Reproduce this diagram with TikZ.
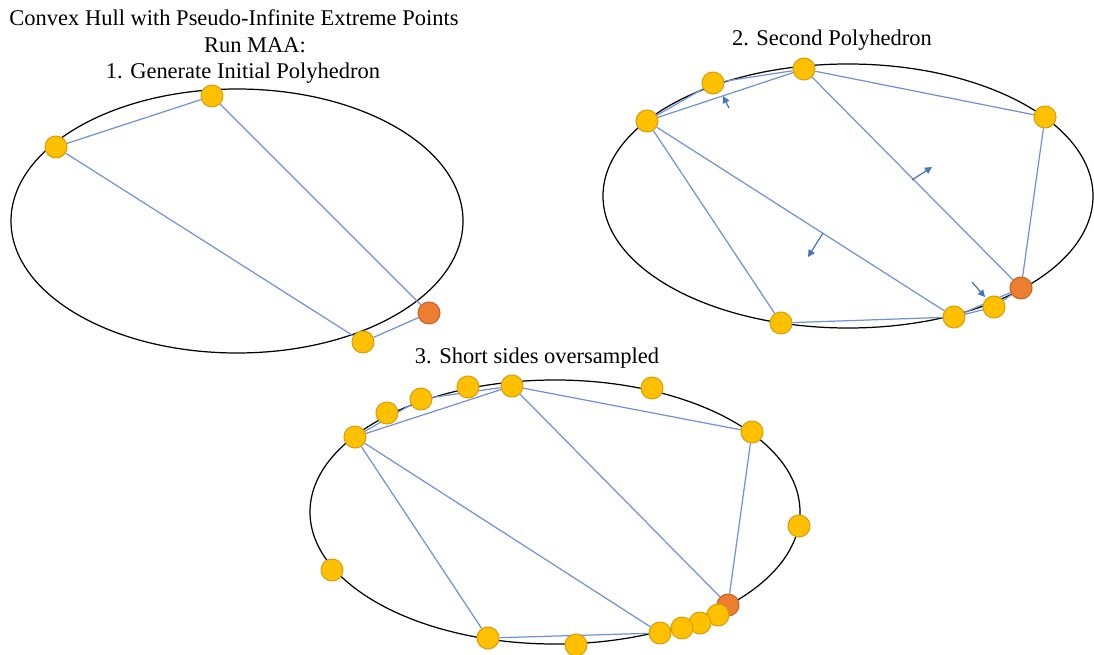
\documentclass[tikz,border=0pt]{standalone}
\usepackage{fontspec}
\setmainfont{Liberation Serif}
\usetikzlibrary{arrows.meta,backgrounds}

\definecolor{ptyellow}{RGB}{255,192,0}
\definecolor{ptyellowline}{RGB}{214,160,10}
\definecolor{ptorange}{RGB}{237,125,49}
\definecolor{ptorangeline}{RGB}{200,100,40}
\definecolor{edgeblue}{RGB}{114,147,211}
\definecolor{normalblue}{RGB}{68,114,196}

\tikzset{
  pt/.style={circle,draw=ptyellowline,fill=ptyellow,line width=0.6pt,minimum size=0.44cm,inner sep=0pt},
  ptinf/.style={pt,draw=ptorangeline,fill=ptorange},
  hull/.style={draw=edgeblue,line width=0.7pt},
  normal/.style={draw=normalblue,line width=0.7pt,-{Triangle[length=4pt,width=4pt]}},
  caption/.style={font=\fontsize{12.8}{15}\selectfont,inner sep=0pt}
}

\begin{document}
\begin{tikzpicture}[x=0.02cm,y=-0.02cm]
\useasboundingbox (0,0) rectangle (1094,655);

% titles
\node[caption] (t0) at (234,18) {Convex Hull with Pseudo-Infinite Extreme Points};
\node[caption] (t1) at (255,45) {Run MAA:};
\node[caption] (t2) at (243,73) {1. Generate Initial Polyhedron};
\node[caption] (t3) at (832,40) {2. Second Polyhedron};
\node[caption] (t4) at (537,358) {3. Short sides oversampled};

% panel 1
\node[pt] (a1) at (56,147) {};
\node[pt] (a2) at (212,96) {};
\node[ptinf] (a3) at (429,313) {};
\node[pt] (a4) at (363,342) {};
\begin{scope}[on background layer]
\draw[line width=0.7pt] (237,221) ellipse [x radius=226,y radius=132];
\draw[hull] (a1) -- (a2) -- (a3) -- (a4) -- (a1);
\end{scope}

% panel 2
\node[pt] (b1) at (647,121) {};
\node[pt] (b2) at (713,83) {};
\node[pt] (b3) at (804,69) {};
\node[pt] (b4) at (1045,117) {};
\node[ptinf] (b5) at (1021,288) {};
\node[pt] (b6) at (994,307) {};
\node[pt] (b7) at (954,317) {};
\node[pt] (b8) at (781,323) {};
\begin{scope}[on background layer]
\draw[line width=0.7pt] (848,196) ellipse [x radius=245,y radius=132];
\draw[hull] (b1) -- (b2) -- (b3) -- (b1);
\draw[hull] (b3) -- (b4) -- (b5) -- (b3);
\draw[hull] (b1) -- (b8) -- (b7) -- (b1);
\draw[hull] (b7) -- (b5) -- (b6) -- (b7);
\end{scope}
\draw[normal] (729,108) -- (723,96);
\draw[normal] (912,180) -- (932,167);
\draw[normal] (823,233) -- (808,257);
\draw[normal] (972,282) -- (985,297);

% panel 3
\node[pt] (c15) at (332,570) {};
\node[pt] (c1) at (355,437) {};
\node[pt] (c2) at (387,413) {};
\node[pt] (c3) at (421,399) {};
\node[pt] (c4) at (468,387) {};
\node[pt] (c5) at (512,386) {};
\node[pt] (c6) at (652,388) {};
\node[pt] (c7) at (752,432) {};
\node[pt] (c8) at (799,526) {};
\node[ptinf] (c0) at (728,605) {};
\foreach \n/\x/\y in {9/718/615,10/700/623,11/682/628,12/660/633}
  \node[pt] (c\n) at (\x,\y) {};
\node[pt] (c13) at (576,645) {};
\node[pt] (c14) at (488,638) {};
\begin{scope}[on background layer]
\draw[line width=0.7pt] (555,512) ellipse [x radius=245,y radius=132];
\draw[hull] (c1) -- (c3) -- (c5) -- (c1);
\draw[hull] (c5) -- (c7) -- (c0) -- (c5);
\draw[hull] (c1) -- (c14) -- (c12) -- (c1);
\draw[hull] (c12) -- (c0);
\end{scope}
\end{tikzpicture}
\end{document}
